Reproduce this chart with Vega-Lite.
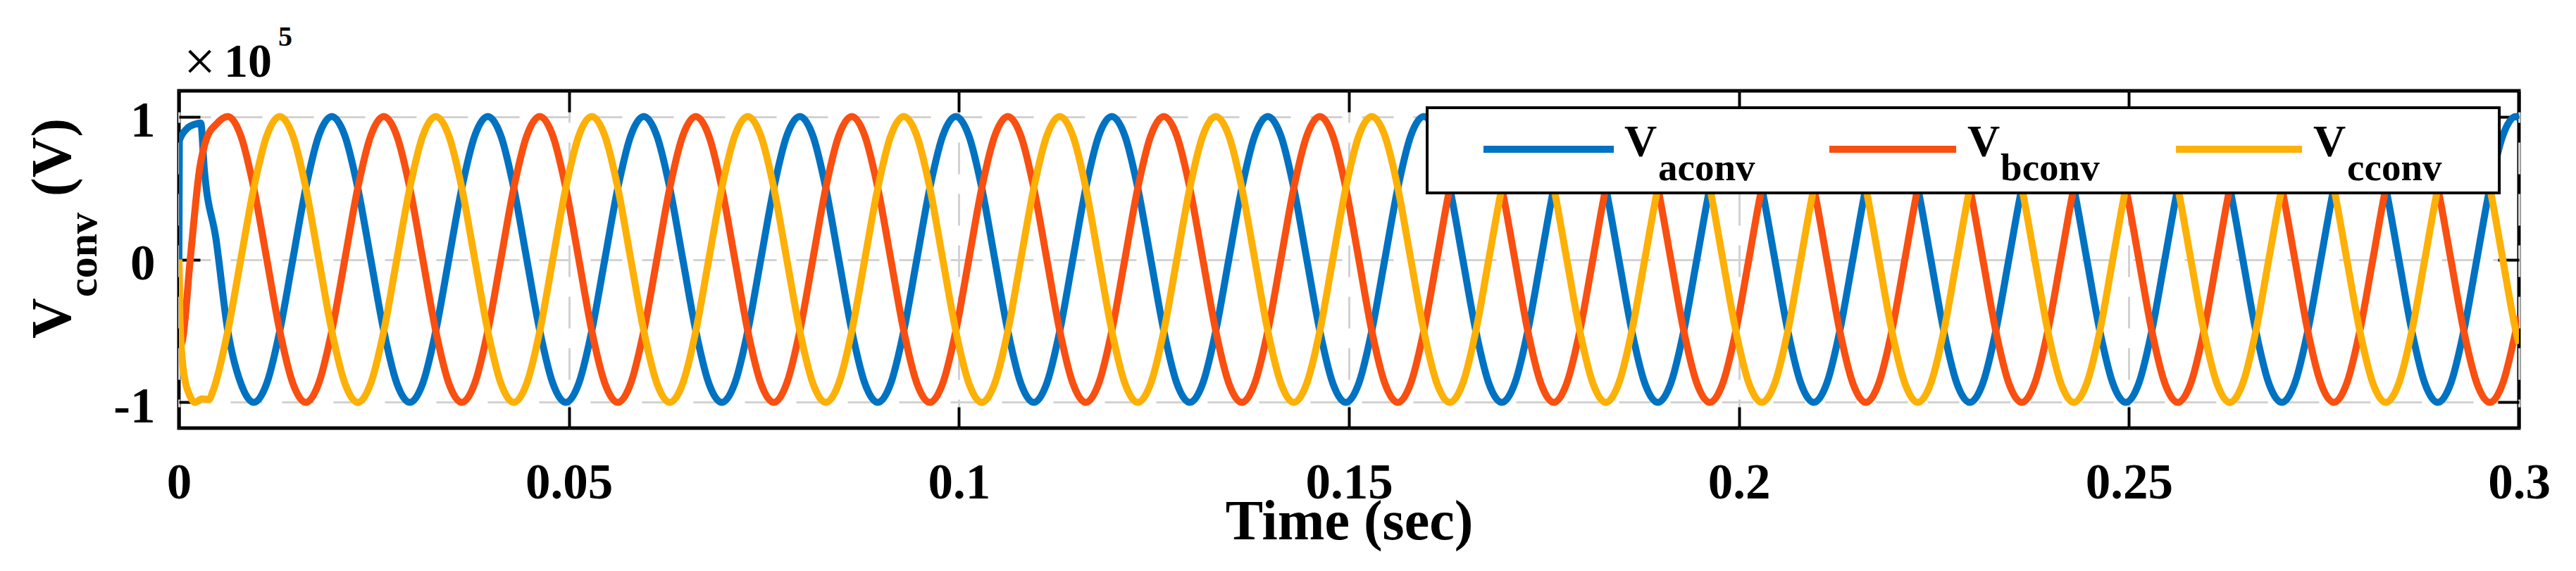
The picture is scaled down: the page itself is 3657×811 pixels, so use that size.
{
"$schema":"https://vega.github.io/schema/vega-lite/v6.json",
"width":3322,"height":479,
"autosize":{"type":"none"},
"padding":{"left":254,"top":129,"right":81,"bottom":203},
"background":"white",
"config":{"view":{"stroke":"black","strokeWidth":5},"font":"Liberation Serif"},
"data":{"values":[
{"t":0,"a":0,"b":0,"c":0},
{"t":0.00005,"a":0.83},
{"t":0.00012,"c":-0.4},
{"t":0.00015,"b":-0.6},
{"t":0.0004,"b":-0.58},
{"t":0.00054,"c":-0.76},
{"t":0.001,"a":0.914},
{"t":0.00145,"b":0,"c":-0.96},
{"t":0.00205,"a":0.946,"c":-1},
{"t":0.00265,"b":0.633},
{"t":0.0028,"a":0.955},
{"t":0.00295,"c":-0.975},
{"t":0.00325,"a":0.633},
{"t":0.00355,"b":0.847},
{"t":0.00385,"c":-0.98},
{"t":0.0043,"c":-0.93},
{"t":0.00476,"a":0.14,"b":0.945},
{"t":0.00627,"a":-0.5,"b":1,"c":-0.5},
{"t":0.00793,"a":-0.866,"b":0.866,"c":0},
{"t":0.0096,"a":-1,"b":0.5,"c":0.5},
{"t":0.01127,"a":-0.866,"b":0,"c":0.866},
{"t":0.01293,"a":-0.5,"b":-0.5,"c":1},
{"t":0.0146,"a":0,"b":-0.866,"c":0.866},
{"t":0.01627,"a":0.5,"b":-1,"c":0.5},
{"t":0.01793,"a":0.866,"b":-0.866,"c":0},
{"t":0.0196,"a":1,"b":-0.5,"c":-0.5},
{"t":0.02127,"a":0.866,"b":0,"c":-0.866},
{"t":0.02293,"a":0.5,"b":0.5,"c":-1},
{"t":0.0246,"a":0,"b":0.866,"c":-0.866},
{"t":0.02627,"a":-0.5,"b":1,"c":-0.5},
{"t":0.02793,"a":-0.866,"b":0.866,"c":0},
{"t":0.0296,"a":-1,"b":0.5,"c":0.5},
{"t":0.03127,"a":-0.866,"b":0,"c":0.866},
{"t":0.03293,"a":-0.5,"b":-0.5,"c":1},
{"t":0.0346,"a":0,"b":-0.866,"c":0.866},
{"t":0.03627,"a":0.5,"b":-1,"c":0.5},
{"t":0.03793,"a":0.866,"b":-0.866,"c":0},
{"t":0.0396,"a":1,"b":-0.5,"c":-0.5},
{"t":0.04127,"a":0.866,"b":0,"c":-0.866},
{"t":0.04293,"a":0.5,"b":0.5,"c":-1},
{"t":0.0446,"a":0,"b":0.866,"c":-0.866},
{"t":0.04627,"a":-0.5,"b":1,"c":-0.5},
{"t":0.04793,"a":-0.866,"b":0.866,"c":0},
{"t":0.0496,"a":-1,"b":0.5,"c":0.5},
{"t":0.05127,"a":-0.866,"b":0,"c":0.866},
{"t":0.05293,"a":-0.5,"b":-0.5,"c":1},
{"t":0.0546,"a":0,"b":-0.866,"c":0.866},
{"t":0.05627,"a":0.5,"b":-1,"c":0.5},
{"t":0.05793,"a":0.866,"b":-0.866,"c":0},
{"t":0.0596,"a":1,"b":-0.5,"c":-0.5},
{"t":0.06127,"a":0.866,"b":0,"c":-0.866},
{"t":0.06293,"a":0.5,"b":0.5,"c":-1},
{"t":0.0646,"a":0,"b":0.866,"c":-0.866},
{"t":0.06627,"a":-0.5,"b":1,"c":-0.5},
{"t":0.06793,"a":-0.866,"b":0.866,"c":0},
{"t":0.0696,"a":-1,"b":0.5,"c":0.5},
{"t":0.07127,"a":-0.866,"b":0,"c":0.866},
{"t":0.07293,"a":-0.5,"b":-0.5,"c":1},
{"t":0.0746,"a":0,"b":-0.866,"c":0.866},
{"t":0.07627,"a":0.5,"b":-1,"c":0.5},
{"t":0.07793,"a":0.866,"b":-0.866,"c":0},
{"t":0.0796,"a":1,"b":-0.5,"c":-0.5},
{"t":0.08127,"a":0.866,"b":0,"c":-0.866},
{"t":0.08293,"a":0.5,"b":0.5,"c":-1},
{"t":0.0846,"a":0,"b":0.866,"c":-0.866},
{"t":0.08627,"a":-0.5,"b":1,"c":-0.5},
{"t":0.08793,"a":-0.866,"b":0.866,"c":0},
{"t":0.0896,"a":-1,"b":0.5,"c":0.5},
{"t":0.09127,"a":-0.866,"b":0,"c":0.866},
{"t":0.09293,"a":-0.5,"b":-0.5,"c":1},
{"t":0.0946,"a":0,"b":-0.866,"c":0.866},
{"t":0.09627,"a":0.5,"b":-1,"c":0.5},
{"t":0.09793,"a":0.866,"b":-0.866,"c":0},
{"t":0.0996,"a":1,"b":-0.5,"c":-0.5},
{"t":0.10127,"a":0.866,"b":0,"c":-0.866},
{"t":0.10293,"a":0.5,"b":0.5,"c":-1},
{"t":0.1046,"a":0,"b":0.866,"c":-0.866},
{"t":0.10627,"a":-0.5,"b":1,"c":-0.5},
{"t":0.10793,"a":-0.866,"b":0.866,"c":0},
{"t":0.1096,"a":-1,"b":0.5,"c":0.5},
{"t":0.11127,"a":-0.866,"b":0,"c":0.866},
{"t":0.11293,"a":-0.5,"b":-0.5,"c":1},
{"t":0.1146,"a":0,"b":-0.866,"c":0.866},
{"t":0.11627,"a":0.5,"b":-1,"c":0.5},
{"t":0.11793,"a":0.866,"b":-0.866,"c":0},
{"t":0.1196,"a":1,"b":-0.5,"c":-0.5},
{"t":0.12127,"a":0.866,"b":0,"c":-0.866},
{"t":0.12293,"a":0.5,"b":0.5,"c":-1},
{"t":0.1246,"a":0,"b":0.866,"c":-0.866},
{"t":0.12627,"a":-0.5,"b":1,"c":-0.5},
{"t":0.12793,"a":-0.866,"b":0.866,"c":0},
{"t":0.1296,"a":-1,"b":0.5,"c":0.5},
{"t":0.13127,"a":-0.866,"b":0,"c":0.866},
{"t":0.13293,"a":-0.5,"b":-0.5,"c":1},
{"t":0.1346,"a":0,"b":-0.866,"c":0.866},
{"t":0.13627,"a":0.5,"b":-1,"c":0.5},
{"t":0.13793,"a":0.866,"b":-0.866,"c":0},
{"t":0.1396,"a":1,"b":-0.5,"c":-0.5},
{"t":0.14127,"a":0.866,"b":0,"c":-0.866},
{"t":0.14293,"a":0.5,"b":0.5,"c":-1},
{"t":0.1446,"a":0,"b":0.866,"c":-0.866},
{"t":0.14627,"a":-0.5,"b":1,"c":-0.5},
{"t":0.14793,"a":-0.866,"b":0.866,"c":0},
{"t":0.1496,"a":-1,"b":0.5,"c":0.5},
{"t":0.15127,"a":-0.866,"b":0,"c":0.866},
{"t":0.15293,"a":-0.5,"b":-0.5,"c":1},
{"t":0.1546,"a":0,"b":-0.866,"c":0.866},
{"t":0.15627,"a":0.5,"b":-1,"c":0.5},
{"t":0.15793,"a":0.866,"b":-0.866,"c":0},
{"t":0.1596,"a":1,"b":-0.5,"c":-0.5},
{"t":0.16127,"a":0.866,"b":0,"c":-0.866},
{"t":0.16293,"a":0.5,"b":0.5,"c":-1},
{"t":0.1646,"a":0,"b":0.866,"c":-0.866},
{"t":0.16627,"a":-0.5,"b":1,"c":-0.5},
{"t":0.16793,"a":-0.866,"b":0.866,"c":0},
{"t":0.1696,"a":-1,"b":0.5,"c":0.5},
{"t":0.17127,"a":-0.866,"b":0,"c":0.866},
{"t":0.17293,"a":-0.5,"b":-0.5,"c":1},
{"t":0.1746,"a":0,"b":-0.866,"c":0.866},
{"t":0.17627,"a":0.5,"b":-1,"c":0.5},
{"t":0.17793,"a":0.866,"b":-0.866,"c":0},
{"t":0.1796,"a":1,"b":-0.5,"c":-0.5},
{"t":0.18127,"a":0.866,"b":0,"c":-0.866},
{"t":0.18293,"a":0.5,"b":0.5,"c":-1},
{"t":0.1846,"a":0,"b":0.866,"c":-0.866},
{"t":0.18627,"a":-0.5,"b":1,"c":-0.5},
{"t":0.18793,"a":-0.866,"b":0.866,"c":0},
{"t":0.1896,"a":-1,"b":0.5,"c":0.5},
{"t":0.19127,"a":-0.866,"b":0,"c":0.866},
{"t":0.19293,"a":-0.5,"b":-0.5,"c":1},
{"t":0.1946,"a":0,"b":-0.866,"c":0.866},
{"t":0.19627,"a":0.5,"b":-1,"c":0.5},
{"t":0.19793,"a":0.866,"b":-0.866,"c":0},
{"t":0.1996,"a":1,"b":-0.5,"c":-0.5},
{"t":0.20127,"a":0.866,"b":0,"c":-0.866},
{"t":0.20293,"a":0.5,"b":0.5,"c":-1},
{"t":0.2046,"a":0,"b":0.866,"c":-0.866},
{"t":0.20627,"a":-0.5,"b":1,"c":-0.5},
{"t":0.20793,"a":-0.866,"b":0.866,"c":0},
{"t":0.2096,"a":-1,"b":0.5,"c":0.5},
{"t":0.21127,"a":-0.866,"b":0,"c":0.866},
{"t":0.21293,"a":-0.5,"b":-0.5,"c":1},
{"t":0.2146,"a":0,"b":-0.866,"c":0.866},
{"t":0.21627,"a":0.5,"b":-1,"c":0.5},
{"t":0.21793,"a":0.866,"b":-0.866,"c":0},
{"t":0.2196,"a":1,"b":-0.5,"c":-0.5},
{"t":0.22127,"a":0.866,"b":0,"c":-0.866},
{"t":0.22293,"a":0.5,"b":0.5,"c":-1},
{"t":0.2246,"a":0,"b":0.866,"c":-0.866},
{"t":0.22627,"a":-0.5,"b":1,"c":-0.5},
{"t":0.22793,"a":-0.866,"b":0.866,"c":0},
{"t":0.2296,"a":-1,"b":0.5,"c":0.5},
{"t":0.23127,"a":-0.866,"b":0,"c":0.866},
{"t":0.23293,"a":-0.5,"b":-0.5,"c":1},
{"t":0.2346,"a":0,"b":-0.866,"c":0.866},
{"t":0.23627,"a":0.5,"b":-1,"c":0.5},
{"t":0.23793,"a":0.866,"b":-0.866,"c":0},
{"t":0.2396,"a":1,"b":-0.5,"c":-0.5},
{"t":0.24127,"a":0.866,"b":0,"c":-0.866},
{"t":0.24293,"a":0.5,"b":0.5,"c":-1},
{"t":0.2446,"a":0,"b":0.866,"c":-0.866},
{"t":0.24627,"a":-0.5,"b":1,"c":-0.5},
{"t":0.24793,"a":-0.866,"b":0.866,"c":0},
{"t":0.2496,"a":-1,"b":0.5,"c":0.5},
{"t":0.25127,"a":-0.866,"b":0,"c":0.866},
{"t":0.25293,"a":-0.5,"b":-0.5,"c":1},
{"t":0.2546,"a":0,"b":-0.866,"c":0.866},
{"t":0.25627,"a":0.5,"b":-1,"c":0.5},
{"t":0.25793,"a":0.866,"b":-0.866,"c":0},
{"t":0.2596,"a":1,"b":-0.5,"c":-0.5},
{"t":0.26127,"a":0.866,"b":0,"c":-0.866},
{"t":0.26293,"a":0.5,"b":0.5,"c":-1},
{"t":0.2646,"a":0,"b":0.866,"c":-0.866},
{"t":0.26627,"a":-0.5,"b":1,"c":-0.5},
{"t":0.26793,"a":-0.866,"b":0.866,"c":0},
{"t":0.2696,"a":-1,"b":0.5,"c":0.5},
{"t":0.27127,"a":-0.866,"b":0,"c":0.866},
{"t":0.27293,"a":-0.5,"b":-0.5,"c":1},
{"t":0.2746,"a":0,"b":-0.866,"c":0.866},
{"t":0.27627,"a":0.5,"b":-1,"c":0.5},
{"t":0.27793,"a":0.866,"b":-0.866,"c":0},
{"t":0.2796,"a":1,"b":-0.5,"c":-0.5},
{"t":0.28127,"a":0.866,"b":0,"c":-0.866},
{"t":0.28293,"a":0.5,"b":0.5,"c":-1},
{"t":0.2846,"a":0,"b":0.866,"c":-0.866},
{"t":0.28627,"a":-0.5,"b":1,"c":-0.5},
{"t":0.28793,"a":-0.866,"b":0.866,"c":0},
{"t":0.2896,"a":-1,"b":0.5,"c":0.5},
{"t":0.29127,"a":-0.866,"b":0,"c":0.866},
{"t":0.29293,"a":-0.5,"b":-0.5,"c":1},
{"t":0.2946,"a":0,"b":-0.866,"c":0.866},
{"t":0.29627,"a":0.5,"b":-1,"c":0.5},
{"t":0.29793,"a":0.866,"b":-0.866,"c":0},
{"t":0.2996,"a":1,"b":-0.5,"c":-0.5},
{"t":0.3,"a":0.99,"b":-0.4,"c":-0.59}
]},
"resolve":{"axis":{"x":"independent","y":"independent"}},
"layer":[
{"transform":[{"filter":"isValid(datum.a)"}],
 "mark":{"type":"line","interpolate":"monotone","strokeWidth":10,"color":"#0072C2","clip":true},
 "encoding":{
  "x":{"field":"t","type":"quantitative","scale":{"domain":[0,0.3],"nice":false,"zero":false},
   "axis":{"orient":"bottom","values":[0,0.05,0.1,0.15,0.2,0.25,0.3],"format":"~g","domain":false,"grid":true,"gridColor":"#d2d2d2","gridWidth":3,"gridDash":[45,28],"ticks":true,"tickSize":-30,"tickWidth":4,"tickColor":"black","labelFont":"Liberation Serif","labelFontWeight":"bold","labelFontSize":71,"labelColor":"black","labelBaseline":"alphabetic","labelPadding":129,"labelFlush":false,"labelOverlap":false,"title":"Time (sec)","titleFont":"Liberation Serif","titleFontWeight":"bold","titleFontSize":80,"titleColor":"black","titleBaseline":"alphabetic","titleY":157,"zindex":0}},
  "y":{"field":"a","type":"quantitative","scale":{"domain":[-1.18,1.18],"nice":false,"zero":false},
   "axis":{"orient":"left","values":[-1,0,1],"labelExpr":"'' + datum.value","domain":false,"grid":true,"gridColor":"#d2d2d2","gridWidth":3,"gridDash":[45,28],"ticks":true,"tickSize":-30,"tickWidth":4,"tickColor":"black","labelFont":"Liberation Serif","labelFontWeight":"bold","labelFontSize":71,"labelColor":"black","labelBaseline":"middle","labelPadding":64,"labelOffset":7,"labelOverlap":false,"title":null,"zindex":0}}
 }},
{"transform":[{"filter":"isValid(datum.b)"}],
 "mark":{"type":"line","interpolate":"monotone","strokeWidth":10,"color":"#F94F10","clip":true},
 "encoding":{
  "x":{"field":"t","type":"quantitative","scale":{"domain":[0,0.3],"nice":false,"zero":false},
   "axis":{"orient":"top","values":[0,0.05,0.1,0.15,0.2,0.25,0.3],"labels":false,"domain":false,"grid":false,"ticks":true,"tickSize":-30,"tickWidth":4,"tickColor":"black","title":null}},
  "y":{"field":"b","type":"quantitative","scale":{"domain":[-1.18,1.18],"nice":false,"zero":false},
   "axis":{"orient":"right","values":[-1,0,1],"labels":false,"domain":false,"grid":false,"ticks":true,"tickSize":-30,"tickWidth":4,"tickColor":"black","title":null}}
 }},
{"transform":[{"filter":"isValid(datum.c)"}],
 "mark":{"type":"line","interpolate":"monotone","strokeWidth":10,"color":"#FDB005","clip":true},
 "encoding":{
  "x":{"field":"t","type":"quantitative","scale":{"domain":[0,0.3],"nice":false,"zero":false},"axis":null},
  "y":{"field":"c","type":"quantitative","scale":{"domain":[-1.18,1.18],"nice":false,"zero":false},"axis":null}
 }},
{"data":{"values":[{}]},
 "mark":{"type":"rect","fill":"white","stroke":"black","strokeWidth":4},
 "encoding":{
  "x":{"datum":0.16003,"type":"quantitative","scale":{"domain":[0,0.3],"nice":false,"zero":false},"axis":null},
  "x2":{"datum":0.29748},
  "y":{"datum":1.0618,"type":"quantitative","scale":{"domain":[-1.18,1.18],"nice":false,"zero":false},"axis":null},
  "y2":{"datum":0.4656}
 }},
{"data":{"values":[{}]},
 "mark":{"type":"rule","strokeWidth":10,"color":"#0072C2"},
 "encoding":{
  "x":{"datum":0.16725,"type":"quantitative","scale":{"domain":[0,0.3],"nice":false,"zero":false},"axis":null},
  "x2":{"datum":0.18396},
  "y":{"datum":0.771,"type":"quantitative","scale":{"domain":[-1.18,1.18],"nice":false,"zero":false},"axis":null}
 }},
{"data":{"values":[{}]},
 "mark":{"type":"rule","strokeWidth":10,"color":"#F94F10"},
 "encoding":{
  "x":{"datum":0.21159,"type":"quantitative","scale":{"domain":[0,0.3],"nice":false,"zero":false},"axis":null},
  "x2":{"datum":0.22785},
  "y":{"datum":0.771,"type":"quantitative","scale":{"domain":[-1.18,1.18],"nice":false,"zero":false},"axis":null}
 }},
{"data":{"values":[{}]},
 "mark":{"type":"rule","strokeWidth":10,"color":"#FDB005"},
 "encoding":{
  "x":{"datum":0.25603,"type":"quantitative","scale":{"domain":[0,0.3],"nice":false,"zero":false},"axis":null},
  "x2":{"datum":0.27219},
  "y":{"datum":0.771,"type":"quantitative","scale":{"domain":[-1.18,1.18],"nice":false,"zero":false},"axis":null}
 }},
{"data":{"values":[{}]},
 "mark":{"type":"text","text":"V","font":"Liberation Serif","fontWeight":"bold","fontSize":64,"align":"left","baseline":"alphabetic","color":"black"},
 "encoding":{
  "x":{"datum":0.18532,"type":"quantitative","scale":{"domain":[0,0.3],"nice":false,"zero":false},"axis":null},
  "y":{"datum":0.7218,"type":"quantitative","scale":{"domain":[-1.18,1.18],"nice":false,"zero":false},"axis":null}
 }},
{"data":{"values":[{}]},
 "mark":{"type":"text","text":"V","font":"Liberation Serif","fontWeight":"bold","fontSize":64,"align":"left","baseline":"alphabetic","color":"black"},
 "encoding":{
  "x":{"datum":0.2293,"type":"quantitative","scale":{"domain":[0,0.3],"nice":false,"zero":false},"axis":null},
  "y":{"datum":0.7218,"type":"quantitative","scale":{"domain":[-1.18,1.18],"nice":false,"zero":false},"axis":null}
 }},
{"data":{"values":[{}]},
 "mark":{"type":"text","text":"V","font":"Liberation Serif","fontWeight":"bold","fontSize":64,"align":"left","baseline":"alphabetic","color":"black"},
 "encoding":{
  "x":{"datum":0.27364,"type":"quantitative","scale":{"domain":[0,0.3],"nice":false,"zero":false},"axis":null},
  "y":{"datum":0.7218,"type":"quantitative","scale":{"domain":[-1.18,1.18],"nice":false,"zero":false},"axis":null}
 }},
{"data":{"values":[{}]},
 "mark":{"type":"text","text":"aconv","font":"Liberation Serif","fontWeight":"bold","fontSize":55,"align":"left","baseline":"alphabetic","color":"black"},
 "encoding":{
  "x":{"datum":0.18965,"type":"quantitative","scale":{"domain":[0,0.3],"nice":false,"zero":false},"axis":null},
  "y":{"datum":0.5543,"type":"quantitative","scale":{"domain":[-1.18,1.18],"nice":false,"zero":false},"axis":null}
 }},
{"data":{"values":[{}]},
 "mark":{"type":"text","text":"bconv","font":"Liberation Serif","fontWeight":"bold","fontSize":55,"align":"left","baseline":"alphabetic","color":"black"},
 "encoding":{
  "x":{"datum":0.23354,"type":"quantitative","scale":{"domain":[0,0.3],"nice":false,"zero":false},"axis":null},
  "y":{"datum":0.5543,"type":"quantitative","scale":{"domain":[-1.18,1.18],"nice":false,"zero":false},"axis":null}
 }},
{"data":{"values":[{}]},
 "mark":{"type":"text","text":"cconv","font":"Liberation Serif","fontWeight":"bold","fontSize":55,"align":"left","baseline":"alphabetic","color":"black"},
 "encoding":{
  "x":{"datum":0.27797,"type":"quantitative","scale":{"domain":[0,0.3],"nice":false,"zero":false},"axis":null},
  "y":{"datum":0.5543,"type":"quantitative","scale":{"domain":[-1.18,1.18],"nice":false,"zero":false},"axis":null}
 }},
{"data":{"values":[{}]},
 "mark":{"type":"text","text":"V","font":"Liberation Serif","fontWeight":"bold","fontSize":80,"align":"left","baseline":"alphabetic","angle":270,"color":"black"},
 "encoding":{
  "x":{"datum":-0.01391,"type":"quantitative","scale":{"domain":[0,0.3],"nice":false,"zero":false},"axis":null},
  "y":{"datum":-0.5543,"type":"quantitative","scale":{"domain":[-1.18,1.18],"nice":false,"zero":false},"axis":null}
 }},
{"data":{"values":[{}]},
 "mark":{"type":"text","text":"conv","font":"Liberation Serif","fontWeight":"bold","fontSize":60,"align":"left","baseline":"alphabetic","angle":270,"color":"black"},
 "encoding":{
  "x":{"datum":-0.010566,"type":"quantitative","scale":{"domain":[0,0.3],"nice":false,"zero":false},"axis":null},
  "y":{"datum":-0.2636,"type":"quantitative","scale":{"domain":[-1.18,1.18],"nice":false,"zero":false},"axis":null}
 }},
{"data":{"values":[{}]},
 "mark":{"type":"text","text":"(V)","font":"Liberation Serif","fontWeight":"bold","fontSize":80,"align":"left","baseline":"alphabetic","angle":270,"color":"black"},
 "encoding":{
  "x":{"datum":-0.01391,"type":"quantitative","scale":{"domain":[0,0.3],"nice":false,"zero":false},"axis":null},
  "y":{"datum":0.441,"type":"quantitative","scale":{"domain":[-1.18,1.18],"nice":false,"zero":false},"axis":null}
 }},
{"data":{"values":[{}]},
 "mark":{"type":"text","text":"×","font":"Liberation Serif","fontWeight":"normal","fontSize":80,"align":"left","baseline":"alphabetic","color":"black"},
 "encoding":{
  "x":{"datum":0.00063,"type":"quantitative","scale":{"domain":[0,0.3],"nice":false,"zero":false},"axis":null},
  "y":{"datum":1.255,"type":"quantitative","scale":{"domain":[-1.18,1.18],"nice":false,"zero":false},"axis":null}
 }},
{"data":{"values":[{}]},
 "mark":{"type":"text","text":"10","font":"Liberation Serif","fontWeight":"bold","fontSize":68,"align":"left","baseline":"alphabetic","color":"black"},
 "encoding":{
  "x":{"datum":0.00578,"type":"quantitative","scale":{"domain":[0,0.3],"nice":false,"zero":false},"axis":null},
  "y":{"datum":1.2785,"type":"quantitative","scale":{"domain":[-1.18,1.18],"nice":false,"zero":false},"axis":null}
 }},
{"data":{"values":[{}]},
 "mark":{"type":"text","text":"5","font":"Liberation Serif","fontWeight":"bold","fontSize":40,"align":"left","baseline":"alphabetic","color":"black"},
 "encoding":{
  "x":{"datum":0.01273,"type":"quantitative","scale":{"domain":[0,0.3],"nice":false,"zero":false},"axis":null},
  "y":{"datum":1.4953,"type":"quantitative","scale":{"domain":[-1.18,1.18],"nice":false,"zero":false},"axis":null}
 }}
]
}
